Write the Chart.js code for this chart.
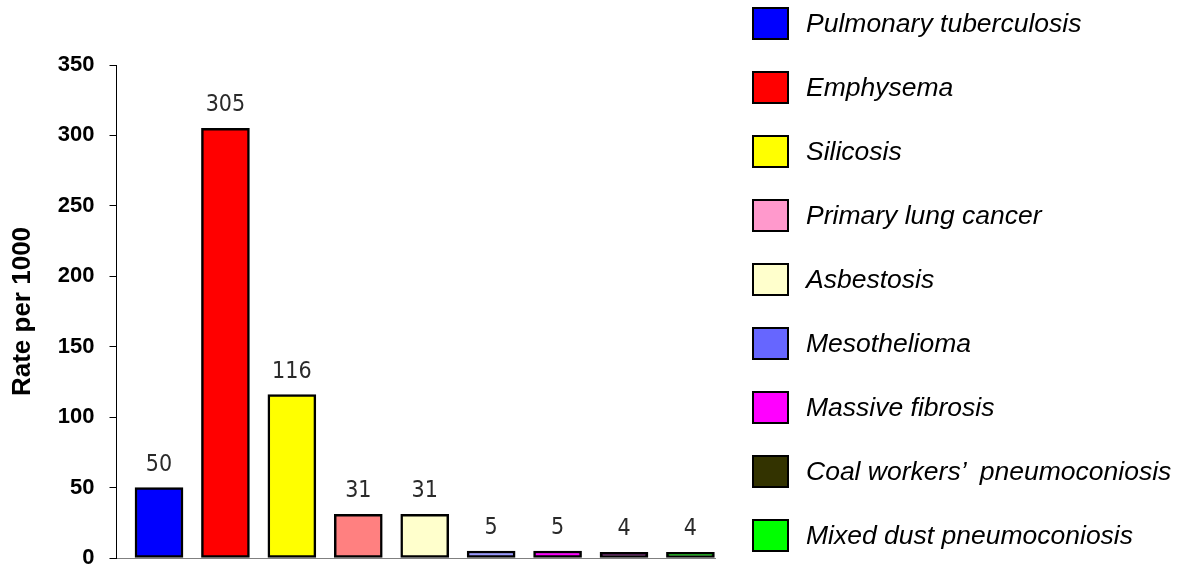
<!DOCTYPE html>
<html>
<head>
<meta charset="utf-8">
<script src="https://cdn.jsdelivr.net/npm/chart.js@4.4.1/dist/chart.umd.min.js"></script>
<style>
  html, body { margin: 0; padding: 0; background: #fff; }
  .wrap { position: relative; width: 1179px; height: 568px; }
  .myChart { position: absolute; left: 0; top: 0; }
  .legend { position: absolute; left: 752px; top: 7px; margin: 0; padding: 0; list-style: none; }
  .legend li { display: flex; align-items: center; height: 33px; margin-bottom: 31px; }
  .legend .box { width: 33px; height: 29px; border: 2px solid #000; flex: none; }
  .legend .txt { margin-left: 17px; font: italic 26.5px "Liberation Sans", Arial, sans-serif; color: #000; white-space: pre; line-height: 33px; }
</style>
</head>
<body>
<div class="wrap">
  <canvas class="myChart" width="1179" height="568"></canvas>
  <ul class="legend"></ul>
</div>
<script>
// Категории и значения
var categories = ['Pulmonary tuberculosis', 'Emphysema', 'Silicosis', 'Primary lung cancer', 'Asbestosis',
  'Mesothelioma', 'Massive fibrosis', 'Coal workers\u2019  pneumoconiosis', 'Mixed dust pneumoconiosis'];
var rates = [50, 305, 116, 31, 31, 5, 5, 4, 4];

// Цвета столбцов и квадратиков легенды (в оригинале они частично не совпадают)
var barColors = ['#0000FF', '#FF0000', '#FFFF00', '#FF8080', '#FFFFCC', '#9999FF', '#FF00FF', '#660066', '#00FF00'];
var legendColors = ['#0000FF', '#FF0000', '#FFFF00', '#FF99CC', '#FFFFCC', '#6666FF', '#FF00FF', '#333300', '#00FF00'];

// Подписи оси Y
var yTicks = [0, 50, 100, 150, 200, 250, 300, 350];

var chartElement = document.getElementsByClassName('myChart')[0];

// Подписи значений над столбцами
var valueLabels = {
  id: 'valueLabels',
  afterDatasetsDraw: function(chart) {
    var ctx = chart.ctx;
    var meta = chart.getDatasetMeta(0);
    ctx.save();
    ctx.font = '23px "DejaVu Sans Condensed", sans-serif';
    ctx.fillStyle = '#2a2a2a';
    ctx.textAlign = 'center';
    ctx.textBaseline = 'alphabetic';
    meta.data.forEach(function(bar, i) {
      ctx.fillText(String(rates[i]), bar.x, bar.y - 17);
    });
    ctx.restore();
  }
};

var chart = new Chart(chartElement, {
  type: 'bar',
  data: {
    datasets: [{
      data: rates.map(function(v, i) { return { x: i, y: v }; }),
      backgroundColor: barColors,
      borderColor: '#000',
      borderWidth: 2.5,
      borderSkipped: false,
      barThickness: 48
    }]
  },
  options: {
    responsive: false,
    animation: false,
    devicePixelRatio: 1,
    layout: { padding: { top: 65, bottom: 10, left: 0, right: 464 } },
    scales: {
      x: {
        type: 'linear',
        offset: false,
        min: -0.64,
        max: 8.37,
        afterFit: function(scale) { scale.height = 0; scale.paddingLeft = 0; scale.paddingRight = 0; },
        ticks: { display: false },
        grid: { display: false, drawTicks: false },
        border: { display: true, color: '#808080', width: 1 }
      },
      y: {
        min: 0,
        max: 350,
        afterBuildTicks: function(scale) {
          scale.ticks = yTicks.map(function(v) { return { value: v }; });
        },
        afterFit: function(scale) { scale.width = 116.5; scale.paddingTop = 0; scale.paddingBottom = 0; },
        ticks: {
          color: '#000',
          padding: 15,
          font: { family: '"Liberation Sans", Arial, sans-serif', size: 22, weight: 'bold' }
        },
        grid: { drawOnChartArea: false, tickLength: 7, color: '#000' },
        border: { color: '#000', width: 1 },
        title: {
          display: true,
          text: 'Rate per 1000',
          color: '#000',
          padding: { top: 7, bottom: 0 },
          font: { family: '"Liberation Sans", Arial, sans-serif', size: 26, weight: 'bold' }
        }
      }
    },
    plugins: {
      legend: { display: false },
      tooltip: { enabled: false }
    }
  },
  plugins: [valueLabels]
});

// Легенда справа
var legendEl = document.getElementsByClassName('legend')[0];
categories.forEach(function(name, i) {
  var li = document.createElement('li');
  var box = document.createElement('span');
  box.className = 'box';
  box.style.background = legendColors[i];
  var txt = document.createElement('span');
  txt.className = 'txt';
  txt.textContent = name;
  li.appendChild(box);
  li.appendChild(txt);
  legendEl.appendChild(li);
});
</script>
</body>
</html>
